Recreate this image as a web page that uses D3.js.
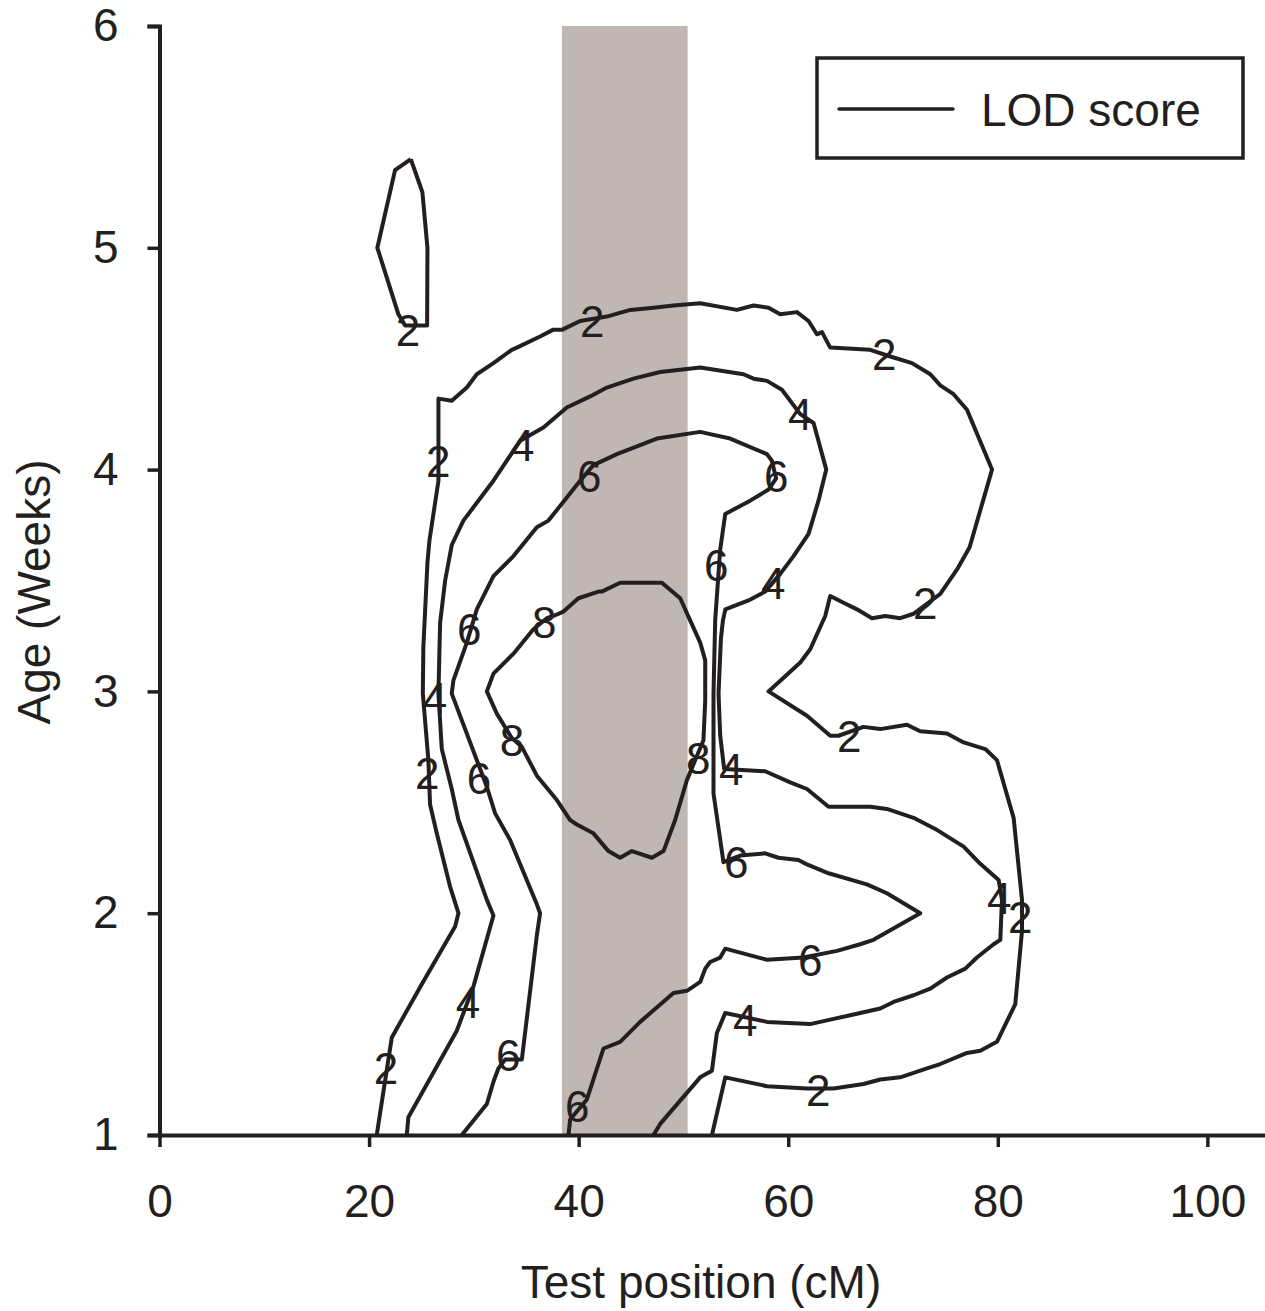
<!DOCTYPE html>
<html>
<head>
<meta charset="utf-8">
<script src="https://cdn.jsdelivr.net/npm/d3@7"></script>
<style>
  body { margin: 0; background: #fff; }
  svg { display: block; }
  text { font-family: "Liberation Sans", Arial, sans-serif; fill: #231f20; }
</style>
</head>
<body>
<div id="chart"></div>
<script>
// LOD score contours, test position (cM) vs age (weeks)

const xTicks = [0, 20, 40, 60, 80, 100];
const yTicks = [1, 2, 3, 4, 5, 6];
const qtlBand = [38.4, 50.4];

// small closed LOD 2 island, top left
const lod2Island = [
  [23.98, 5.40], [22.48, 5.35], [20.79, 5.00], [22.80, 4.70], [23.44, 4.65],
  [25.54, 4.65], [25.57, 5.00], [25.09, 5.25], [24.80, 5.29], [23.98, 5.40]
];

const lod2 = [
  [20.73, 1.00], [22.17, 1.44], [25.03, 1.68], [28.21, 1.94], [28.53, 2.00],
  [27.73, 2.12], [26.46, 2.36], [25.82, 2.49], [25.66, 2.69], [25.13, 2.99],
  [25.18, 3.20], [25.57, 3.58], [25.76, 3.68], [26.62, 3.95], [26.62, 4.32],
  [27.89, 4.31], [29.33, 4.37], [30.28, 4.43], [31.87, 4.48], [33.62, 4.54],
  [34.10, 4.55], [36.32, 4.60], [37.54, 4.63], [38.40, 4.63], [40.14, 4.67],
  [42.69, 4.69], [44.92, 4.72], [47.14, 4.73], [49.05, 4.74], [51.60, 4.75],
  [55.10, 4.72], [56.69, 4.74], [58.12, 4.73], [59.24, 4.70], [60.83, 4.71],
  [61.94, 4.67], [62.74, 4.61], [63.22, 4.62], [64.01, 4.55], [67.83, 4.54],
  [69.74, 4.51], [71.81, 4.48], [73.56, 4.43], [74.51, 4.38], [75.78, 4.34],
  [77.06, 4.27], [79.45, 4.00], [77.31, 3.65], [76.11, 3.55], [74.51, 3.44],
  [71.96, 3.35], [70.69, 3.33], [69.26, 3.34], [67.99, 3.33], [66.56, 3.37],
  [65.28, 3.40], [64.01, 3.43], [63.53, 3.34], [62.10, 3.19], [61.15, 3.13],
  [58.12, 3.00], [61.79, 2.89], [64.01, 2.80], [64.80, 2.80], [67.19, 2.84],
  [68.78, 2.83], [71.33, 2.85], [72.60, 2.82], [75.15, 2.81], [76.74, 2.77],
  [78.81, 2.74], [79.92, 2.69], [81.51, 2.43], [82.31, 2.06], [82.31, 1.92],
  [81.67, 1.59], [79.92, 1.42], [78.33, 1.38], [77.06, 1.37], [74.51, 1.32],
  [73.24, 1.30], [70.69, 1.26], [68.78, 1.25], [67.19, 1.23], [64.32, 1.21],
  [61.79, 1.21], [57.97, 1.22], [53.99, 1.26], [52.72, 1.00]
];

const lod4 = [
  [23.60, 1.00], [23.75, 1.08], [28.37, 1.47], [29.96, 1.67], [31.87, 1.99],
  [31.24, 2.06], [28.53, 2.42], [27.89, 2.56], [26.94, 2.74], [26.62, 2.99],
  [26.78, 3.31], [27.26, 3.50], [27.89, 3.66], [29.00, 3.77], [31.24, 3.91],
  [31.87, 3.95], [34.42, 4.13], [36.64, 4.19], [38.87, 4.28], [41.10, 4.33],
  [42.69, 4.37], [45.23, 4.41], [47.78, 4.44], [51.60, 4.46], [55.73, 4.43],
  [56.69, 4.41], [57.97, 4.40], [59.40, 4.36], [61.15, 4.25], [62.42, 4.21],
  [63.63, 4.00], [62.89, 3.86], [61.94, 3.71], [60.51, 3.61], [59.24, 3.53],
  [57.80, 3.45], [56.21, 3.41], [54.00, 3.37], [53.77, 3.32], [53.58, 3.24],
  [53.35, 2.99], [53.51, 2.80], [53.89, 2.65], [57.80, 2.64], [60.19, 2.59],
  [61.79, 2.56], [63.85, 2.48], [67.83, 2.48], [69.42, 2.47], [71.96, 2.43],
  [74.03, 2.38], [76.74, 2.30], [78.17, 2.23], [80.08, 2.15], [80.40, 2.06],
  [80.24, 1.88], [79.60, 1.86], [78.01, 1.80], [76.90, 1.75], [75.15, 1.71],
  [73.56, 1.66], [71.96, 1.63], [70.05, 1.60], [68.78, 1.57], [65.92, 1.54],
  [64.01, 1.52], [62.10, 1.50], [57.97, 1.51], [53.99, 1.55], [53.19, 1.46],
  [52.72, 1.29], [51.60, 1.26], [47.78, 1.05], [47.14, 1.00]
];

const lod6 = [
  [28.85, 1.00], [31.24, 1.14], [31.87, 1.24], [32.34, 1.30], [32.98, 1.34],
  [34.58, 1.34], [36.01, 1.90], [36.32, 2.00], [36.01, 2.04], [33.46, 2.33],
  [32.03, 2.45], [31.24, 2.57], [27.89, 2.99], [28.05, 3.05], [29.33, 3.22],
  [30.28, 3.37], [31.87, 3.52], [33.78, 3.61], [36.01, 3.74], [37.12, 3.77],
  [40.14, 3.95], [41.41, 4.02], [43.65, 4.07], [47.47, 4.14], [51.60, 4.17],
  [52.55, 4.16], [54.46, 4.14], [57.97, 4.07], [58.44, 4.04], [58.85, 3.96],
  [58.12, 3.91], [56.37, 3.86], [53.99, 3.80], [53.51, 3.64], [53.03, 3.32],
  [52.87, 2.99], [52.87, 2.54], [53.82, 2.23], [55.42, 2.26], [57.80, 2.27],
  [59.07, 2.25], [60.98, 2.24], [61.79, 2.22], [63.85, 2.18], [67.51, 2.13],
  [69.42, 2.09], [72.60, 2.00], [68.14, 1.88], [66.87, 1.86], [64.65, 1.83],
  [61.46, 1.80], [57.97, 1.79], [53.99, 1.84], [53.51, 1.80], [52.55, 1.78],
  [52.08, 1.75], [51.60, 1.69], [50.33, 1.65], [49.05, 1.64], [45.87, 1.51],
  [43.96, 1.42], [42.37, 1.39], [40.78, 1.16], [39.19, 1.07], [39.03, 1.00]
];

const lod8 = [
  [37.59, 3.34], [38.55, 3.36], [39.98, 3.42], [41.89, 3.45], [42.21, 3.45],
  [43.96, 3.49], [45.87, 3.49], [47.94, 3.49], [49.69, 3.42], [50.64, 3.32],
  [51.60, 3.22], [52.08, 3.14], [52.08, 2.96], [51.91, 2.78], [50.33, 2.60],
  [49.21, 2.42], [48.10, 2.28], [46.99, 2.25], [45.08, 2.28], [43.96, 2.25],
  [42.84, 2.28], [41.41, 2.36], [39.83, 2.40], [39.19, 2.42], [37.92, 2.51],
  [36.01, 2.62], [34.58, 2.75], [33.62, 2.79], [32.19, 2.90], [31.24, 3.00],
  [31.87, 3.08], [33.78, 3.17], [35.68, 3.28], [36.96, 3.33], [37.59, 3.34]
];

// contour labels: [level, cM, weeks]
const contourLabels = [
  [2, 23.72, 4.63], [2, 41.29, 4.67], [2, 69.16, 4.52], [2, 26.59, 4.04],
  [2, 73.08, 3.40], [2, 65.82, 2.80], [2, 25.54, 2.63], [2, 21.62, 1.30],
  [2, 62.86, 1.20], [2, 82.15, 1.98],
  [4, 34.61, 4.11], [4, 61.15, 4.25], [4, 58.57, 3.49], [4, 26.30, 2.97],
  [4, 29.45, 1.60], [4, 54.56, 2.65], [4, 55.89, 1.52], [4, 80.14, 2.07],
  [6, 41.00, 3.97], [6, 58.85, 3.97], [6, 53.13, 3.57], [6, 29.55, 3.28],
  [6, 30.50, 2.61], [6, 33.27, 1.36], [6, 55.04, 2.23], [6, 62.10, 1.79],
  [6, 39.86, 1.13],
  [8, 36.71, 3.31], [8, 33.65, 2.78], [8, 51.41, 2.70]
];

const width = 1265;
const height = 1311;
const margin = { left: 159.5, top: 26, right: 0, bottom: 176 };
const ink = "#231f20";

const x = d3.scaleLinear()
  .domain([0, 105.5])
  .range([margin.left, width - margin.right]);

const y = d3.scaleLinear()
  .domain([1, 6])
  .range([height - margin.bottom, margin.top]);

const svg = d3.select("#chart")
  .append("svg")
  .attr("width", width)
  .attr("height", height)
  .attr("viewBox", `0 0 ${width} ${height}`);

// shaded QTL interval
svg.append("rect")
  .attr("x", x(qtlBand[0]))
  .attr("y", y(6))
  .attr("width", x(qtlBand[1]) - x(qtlBand[0]))
  .attr("height", y(1) - y(6))
  .attr("fill", "#c0b7b4");

const line = d3.line()
  .x((d) => x(d[0]))
  .y((d) => y(d[1]));

svg.selectAll("path.contour")
  .data([lod2Island, lod2, lod4, lod6, lod8])
  .join("path")
  .attr("class", "contour")
  .attr("d", line)
  .attr("fill", "none")
  .attr("stroke", ink)
  .attr("stroke-width", 4)
  .attr("stroke-linejoin", "round");

svg.selectAll("text.clabel")
  .data(contourLabels)
  .join("text")
  .attr("class", "clabel")
  .attr("x", (d) => x(d[1]))
  .attr("y", (d) => y(d[2]))
  .attr("dy", "0.36em")
  .attr("text-anchor", "middle")
  .style("font-size", "44px")
  .text((d) => d[0]);

// axes
const xAxis = svg.append("g")
  .attr("transform", `translate(0,${y(1)})`)
  .call(d3.axisBottom(x).tickValues(xTicks).tickFormat(d3.format("d"))
    .tickSize(12).tickSizeOuter(0).tickPadding(37));

const yAxis = svg.append("g")
  .attr("transform", `translate(${x(0)},0)`)
  .call(d3.axisLeft(y).tickValues(yTicks).tickFormat(d3.format("d"))
    .tickSize(12).tickPadding(29));

[xAxis, yAxis].forEach((g) => {
  g.select(".domain").attr("stroke", ink).attr("stroke-width", 4);
  g.selectAll(".tick line").attr("stroke", ink).attr("stroke-width", 3.5);
  g.selectAll(".tick text")
    .style("font-size", "46px")
    .style("font-family", "'Liberation Sans', Arial, sans-serif")
    .attr("fill", ink);
});

svg.append("text")
  .attr("x", 701)
  .attr("y", 1298)
  .attr("text-anchor", "middle")
  .style("font-size", "46px")
  .text("Test position (cM)");

svg.append("text")
  .attr("transform", "translate(50,592) rotate(-90)")
  .attr("text-anchor", "middle")
  .style("font-size", "46px")
  .text("Age (Weeks)");

// legend
const legend = svg.append("g");
legend.append("rect")
  .attr("x", 817)
  .attr("y", 58)
  .attr("width", 426)
  .attr("height", 100)
  .attr("fill", "#fff")
  .attr("stroke", ink)
  .attr("stroke-width", 3.5);
legend.append("line")
  .attr("x1", 839)
  .attr("x2", 953)
  .attr("y1", 109)
  .attr("y2", 109)
  .attr("stroke", ink)
  .attr("stroke-width", 3.5)
  .attr("stroke-linecap", "round");
legend.append("text")
  .attr("x", 981)
  .attr("y", 109)
  .attr("dy", "0.36em")
  .style("font-size", "46px")
  .text("LOD score");
</script>
</body>
</html>
